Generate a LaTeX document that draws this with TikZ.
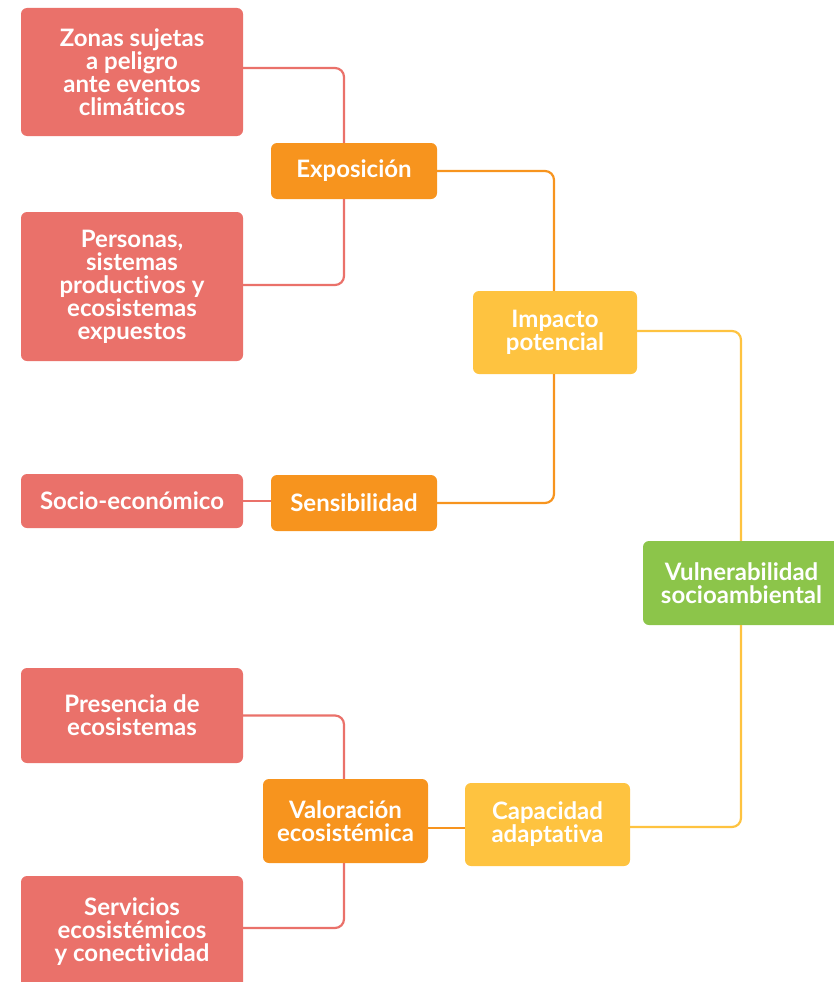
\documentclass[tikz,border=0pt]{standalone}
\usepackage{fontspec}
\setmainfont{Lato}[Ligatures=CommonOff]
\definecolor{salmon}{HTML}{EA716A}
\definecolor{orng}{HTML}{F7941E}
\definecolor{yell}{HTML}{FEC340}
\definecolor{grn}{HTML}{8CC54A}
\begin{document}
\begin{tikzpicture}[x=1pt,y=-1pt,
  box/.style={rounded corners=6pt,align=center,text=white,inner sep=0pt,
    font=\bfseries\fontsize{24}{23}\selectfont},
  sal/.style={box,fill=salmon},
  ora/.style={box,fill=orng},
  yel/.style={box,fill=yell},
  gre/.style={box,fill=grn},
  link/.style={line width=2.2pt,rounded corners=9pt}]
\useasboundingbox (0,0) rectangle (834,982);
\node[sal,minimum width=222pt,minimum height=128pt] (zonas) at (132,72) {Zonas sujetas\\a peligro\\ante eventos\\climáticos};
\node[sal,minimum width=222pt,minimum height=149pt] (pers) at (132,286.5) {Personas,\\sistemas\\productivos y\\ecosistemas\\expuestos};
\node[sal,minimum width=222pt,minimum height=54pt] (socio) at (132,501) {Socio-económico};
\node[sal,minimum width=222pt,minimum height=95pt] (pres) at (132,715.5) {Presencia de\\ecosistemas};
\node[sal,minimum width=222pt,minimum height=112pt] (serv) at (132,932) {Servicios\\ecosistémicos\\y conectividad};
\node[ora,minimum width=166pt,minimum height=56pt] (expo) at (354,171) {Exposición};
\node[ora,minimum width=166pt,minimum height=56pt] (sens) at (354,503) {Sensibilidad};
\node[ora,minimum width=165pt,minimum height=84pt] (valo) at (345.5,821) {Valoración\\ecosistémica};
\node[yel,minimum width=164pt,minimum height=83pt] (imp) at (555,332.5) {Impacto\\potencial};
\node[yel,minimum width=165pt,minimum height=83pt] (cap) at (547.5,824.5) {Capacidad\\adaptativa};
\node[gre,minimum width=197pt,minimum height=84pt] (vul) at (741.5,583) {Vulnerabilidad\\socioambiental};
\draw[link,salmon] ([yshift=4pt]zonas.east) -| ([xshift=-10pt]expo.north);
\draw[link,salmon] ([yshift=1.5pt]pers.east) -| ([xshift=-10pt]expo.south);
\draw[link,salmon] (socio.east) -- (socio.east -| sens.west);
\draw[link,salmon] (pres.east) -| ([xshift=-1.5pt]valo.north);
\draw[link,salmon] ([yshift=4pt]serv.east) -| ([xshift=-1.5pt]valo.south);
\draw[link,orng] (expo.east) -| ([xshift=-1pt]imp.north);
\draw[link,orng] (sens.east) -| ([xshift=-1pt]imp.south);
\draw[link,orng] ([yshift=-7pt]valo.east) -- ([yshift=-7pt]valo.east -| cap.west);
\draw[link,yell] ([yshift=1.5pt]imp.east) -| ([xshift=-0.5pt]vul.north);
\draw[link,yell] ([yshift=-2.5pt]cap.east) -| ([xshift=-0.5pt]vul.south);
\end{tikzpicture}
\end{document}
